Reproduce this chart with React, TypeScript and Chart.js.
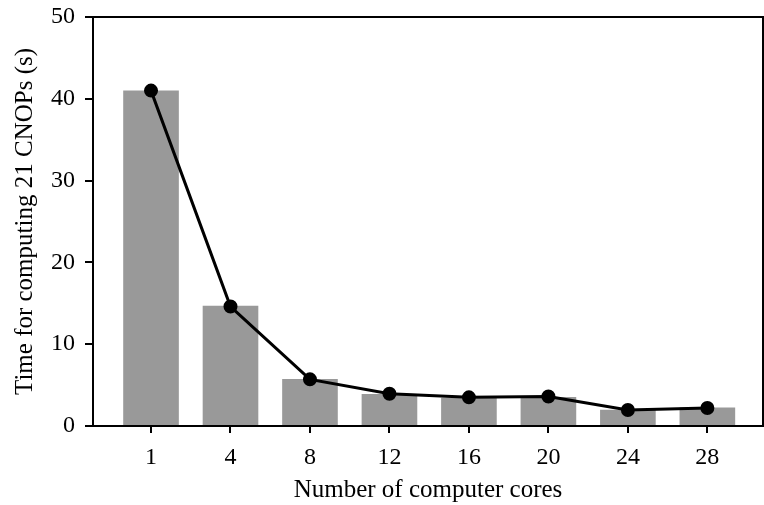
import React, { useEffect, useRef } from "react";
import { Chart, registerables } from "chart.js";

Chart.register(...registerables);

const cores = ["1", "4", "8", "12", "16", "20", "24", "28"];
const barTimes = [41.0, 14.7, 5.75, 3.9, 3.45, 3.55, 2.0, 2.25];
const lineTimes = [41.0, 14.6, 5.7, 3.95, 3.5, 3.6, 1.95, 2.2];
const yTicks = [0, 10, 20, 30, 40, 50];

const FONT = "'Liberation Serif', 'Times New Roman', serif";

const framePlugin = {
  id: "frame",
  afterDraw(chart: any) {
    const { ctx, chartArea } = chart;
    ctx.save();
    ctx.strokeStyle = "#000";
    ctx.lineWidth = 2;
    ctx.beginPath();
    ctx.moveTo(chartArea.left, chartArea.top);
    ctx.lineTo(chartArea.right, chartArea.top);
    ctx.lineTo(chartArea.right, chartArea.bottom);
    ctx.stroke();
    ctx.restore();
  },
};

export default function App() {
  const ref = useRef<HTMLCanvasElement>(null);

  useEffect(() => {
    document.body.style.margin = "0";
    const idx = cores.map((_, i) => i);
    const chart = new Chart(ref.current!, {
      type: "bar",
      data: {
        datasets: [
          {
            type: "line",
            data: idx.map((i) => ({ x: i, y: lineTimes[i] })),
            borderColor: "#000",
            backgroundColor: "#000",
            borderWidth: 3,
            pointRadius: 5.5,
            pointBackgroundColor: "#000",
            pointBorderColor: "#000",
            order: 0,
          } as any,
          {
            type: "bar",
            data: idx.map((i) => ({ x: i, y: barTimes[i] })),
            backgroundColor: "#999999",
            barPercentage: 0.7,
            categoryPercentage: 1,
            order: 1,
          },
        ],
      },
      options: {
        animation: false,
        responsive: false,
        layout: { autoPadding: false, padding: { left: 0, right: 1, top: 17, bottom: 0 } },
        plugins: { legend: { display: false }, tooltip: { enabled: false } },
        scales: {
          x: {
            type: "linear",
            offset: false,
            min: -0.73,
            max: 7.7,
            afterBuildTicks: (scale: any) => {
              scale.ticks = idx.map((v) => ({ value: v }));
            },
            afterFit: (scale: any) => {
              scale.height = 79;
              scale.paddingLeft = 0;
              scale.paddingRight = 0;
            },
            grid: {
              display: true,
              offset: false,
              drawOnChartArea: false,
              drawTicks: true,
              tickLength: 7,
              color: "#000",
              lineWidth: 2,
            },
            border: { display: true, color: "#000", width: 2 },
            ticks: {
              color: "#000",
              font: { family: FONT, size: 24 },
              padding: 10,
              maxRotation: 0,
              autoSkip: false,
              callback: (v: any) => cores[Math.round(Number(v))] ?? "",
            },
            title: {
              display: true,
              text: "Number of computer cores",
              color: "#000",
              font: { family: FONT, size: 25 },
              padding: { top: 0, bottom: 0 },
            },
          },
          y: {
            min: 0,
            max: 50,
            afterBuildTicks: (scale: any) => {
              scale.ticks = yTicks.map((v) => ({ value: v }));
            },
            afterFit: (scale: any) => {
              scale.width = 93;
              scale.paddingTop = 0;
              scale.paddingBottom = 0;
            },
            grid: {
              display: true,
              drawOnChartArea: false,
              drawTicks: true,
              tickLength: 8,
              color: "#000",
              lineWidth: 2,
            },
            border: { display: true, color: "#000", width: 2 },
            ticks: {
              color: "#000",
              font: { family: FONT, size: 24 },
              padding: 10,
            },
            title: {
              display: true,
              text: "Time for computing 21 CNOPs (s)",
              color: "#000",
              font: { family: FONT, size: 25 },
              padding: { top: 10, bottom: 0 },
            },
          },
        },
      },
      plugins: [framePlugin],
    });
    return () => chart.destroy();
  }, []);

  return (
    <div style={{ position: "absolute", left: 0, top: 0, width: 764, height: 505 }}>
      <canvas ref={ref} width={764} height={505} style={{ width: 764, height: 505 }} />
    </div>
  );
}
